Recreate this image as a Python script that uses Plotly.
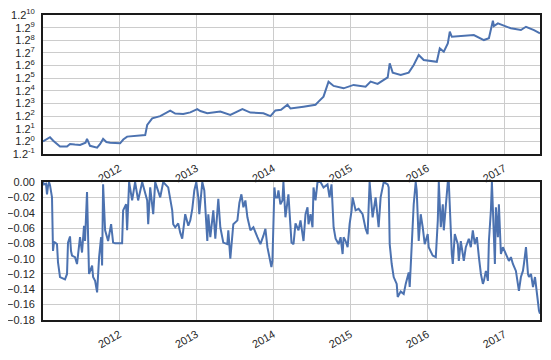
import plotly.graph_objects as go

# ---- data (x in decimal years) ----
eq_t = [2011.007, 2011.04, 2011.098, 2011.14, 2011.228, 2011.319, 2011.358, 2011.42, 2011.488, 2011.56,
        2011.579, 2011.618, 2011.710, 2011.75, 2011.788, 2011.83, 2011.879, 2012.009, 2012.05, 2012.100,
        2012.178, 2012.270, 2012.335, 2012.361, 2012.426, 2012.530, 2012.660, 2012.725, 2012.829, 2012.921,
        2013.012, 2013.051, 2013.142, 2013.311, 2013.441, 2013.598, 2013.702, 2013.871, 2013.962, 2014.027,
        2014.10, 2014.184, 2014.223, 2014.392, 2014.548, 2014.587, 2014.652, 2014.717, 2014.783, 2014.913,
        2015.043, 2015.199, 2015.264, 2015.355, 2015.486, 2015.512, 2015.551, 2015.655, 2015.759, 2015.824,
        2015.889, 2015.954, 2016.046, 2016.124, 2016.163, 2016.215, 2016.267, 2016.293, 2016.319, 2016.475,
        2016.605, 2016.736, 2016.801, 2016.853, 2016.866, 2016.918, 2017.087, 2017.217, 2017.283, 2017.387,
        2017.465]
# equity expressed as exponent of 1.2 (value = 1.2**exp)
eq_exp = [0.0, 0.1, 0.33, 0.05, -0.4, -0.4, -0.2, -0.25, -0.28, -0.1,
          0.2, -0.35, -0.5, -0.2, 0.2, -0.05, -0.1, -0.15, 0.15, 0.38,
          0.43, 0.5, 0.5, 1.3, 1.83, 2.0, 2.43, 2.2, 2.17, 2.3,
          2.55, 2.4, 2.23, 2.36, 2.1, 2.55, 2.28, 2.23, 2.0, 2.45,
          2.5, 2.9, 2.6, 2.75, 2.9, 3.15, 3.54, 4.73, 4.39, 4.2,
          4.47, 4.33, 4.73, 4.55, 5.07, 6.18, 5.44, 5.26, 5.44, 6.05,
          6.84, 6.44, 6.39, 6.3, 7.36, 7.1, 7.76, 8.68, 8.28, 8.34,
          8.42, 8.02, 8.16, 9.55, 9.13, 9.34, 8.95, 8.81, 9.07, 8.81,
          8.55]

dd_t = [2011.007, 2011.020, 2011.046, 2011.059, 2011.072, 2011.085, 2011.098, 2011.124, 2011.137, 2011.150,
        2011.163, 2011.189, 2011.202, 2011.228, 2011.293, 2011.319, 2011.332, 2011.358, 2011.371, 2011.384,
        2011.423, 2011.449, 2011.488, 2011.514, 2011.540, 2011.553, 2011.579, 2011.592, 2011.605, 2011.645,
        2011.658, 2011.684, 2011.710, 2011.736, 2011.762, 2011.775, 2011.788, 2011.814, 2011.853, 2011.892,
        2011.918, 2011.944, 2012.035, 2012.048, 2012.087, 2012.100, 2012.126, 2012.165, 2012.204, 2012.243,
        2012.296, 2012.361, 2012.374, 2012.400, 2012.439, 2012.465, 2012.530, 2012.569, 2012.634, 2012.686,
        2012.699, 2012.725, 2012.764, 2012.790, 2012.816, 2012.855, 2012.895, 2012.921, 2012.947, 2012.973,
        2012.999, 2013.025, 2013.038, 2013.077, 2013.103, 2013.142, 2013.155, 2013.181, 2013.220, 2013.246,
        2013.272, 2013.285, 2013.311, 2013.350, 2013.402, 2013.415, 2013.441, 2013.467, 2013.480, 2013.533,
        2013.559, 2013.585, 2013.611, 2013.637, 2013.663, 2013.702, 2013.741, 2013.793, 2013.832, 2013.871,
        2013.897, 2013.923, 2013.949, 2013.975, 2013.988, 2014.014, 2014.027, 2014.053, 2014.066, 2014.092,
        2014.118, 2014.131, 2014.157, 2014.196, 2014.236, 2014.262, 2014.288, 2014.327, 2014.353, 2014.379,
        2014.392, 2014.418, 2014.444, 2014.457, 2014.483, 2014.509, 2014.522, 2014.548, 2014.574, 2014.613,
        2014.652, 2014.704, 2014.730, 2014.756, 2014.783, 2014.809, 2014.848, 2014.874, 2014.900, 2014.913,
        2014.939, 2014.965, 2014.991, 2015.017, 2015.030, 2015.069, 2015.108, 2015.160, 2015.199, 2015.225,
        2015.251, 2015.290, 2015.329, 2015.368, 2015.394, 2015.434, 2015.486, 2015.499, 2015.512, 2015.538,
        2015.564, 2015.603, 2015.616, 2015.655, 2015.694, 2015.720, 2015.746, 2015.759, 2015.772, 2015.811,
        2015.824, 2015.850, 2015.863, 2015.889, 2015.915, 2015.941, 2015.967, 2016.006, 2016.019, 2016.071,
        2016.111, 2016.137, 2016.150, 2016.176, 2016.202, 2016.215, 2016.254, 2016.267, 2016.280, 2016.293,
        2016.319, 2016.332, 2016.358, 2016.397, 2016.410, 2016.436, 2016.462, 2016.475, 2016.501, 2016.540,
        2016.566, 2016.592, 2016.618, 2016.645, 2016.671, 2016.697, 2016.723, 2016.736, 2016.762, 2016.788,
        2016.801, 2016.827, 2016.840, 2016.866, 2016.879, 2016.892, 2016.918, 2016.931, 2016.957, 2016.983,
        2017.022, 2017.061, 2017.087, 2017.113, 2017.152, 2017.191, 2017.217, 2017.243, 2017.256, 2017.283,
        2017.309, 2017.322, 2017.348, 2017.374, 2017.400, 2017.426, 2017.452, 2017.465]
dd_v = [0, -0.003, -0.002, -0.016, -0.005, 0, -0.004, -0.02, -0.09, -0.078,
        -0.079, -0.081, -0.105, -0.124, -0.127, -0.12, -0.079, -0.071, -0.09, -0.096,
        -0.098, -0.107, -0.072, -0.092, -0.057, -0.077, -0.013, -0.094, -0.12, -0.109,
        -0.124, -0.129, -0.144, -0.098, -0.072, -0.109, -0.003, -0.063, -0.077, -0.055,
        -0.079, -0.080, -0.080, -0.037, -0.029, -0.063, 0, -0.024, 0, -0.024,
        0, -0.024, -0.055, -0.007, -0.042, 0, -0.02, 0, -0.007, -0.037,
        -0.055, -0.059, -0.054, -0.066, -0.074, -0.042, -0.057, -0.05, -0.035, -0.011,
        0, -0.02, -0.042, 0, -0.011, -0.077, -0.042, -0.072, -0.037, -0.074,
        -0.029, -0.022, -0.059, -0.079, -0.081, -0.063, -0.1, -0.072, -0.055, -0.05,
        -0.027, -0.016, -0.033, -0.024, -0.046, -0.063, -0.059, -0.072, -0.081, -0.070,
        -0.061, -0.085, -0.1, -0.111, -0.103, -0.007, -0.02, -0.02, -0.011, -0.029,
        -0.024, 0, -0.046, -0.016, -0.079, -0.081, -0.054, -0.063, -0.050, -0.07,
        -0.077, -0.042, -0.033, -0.055, -0.042, -0.059, -0.007, -0.024, 0, 0,
        -0.007, -0.003, -0.02, -0.003, -0.059, -0.074, -0.081, -0.072, -0.094, -0.072,
        -0.077, -0.085, -0.055, -0.037, -0.02, -0.037, -0.035, -0.042, -0.061, -0.068,
        0, -0.046, -0.02, -0.059, -0.02, 0, -0.003, -0.007, -0.081, -0.107,
        -0.124, -0.133, -0.15, -0.143, -0.146, -0.133, -0.124, -0.118, -0.137, -0.042,
        -0.029, 0, -0.011, -0.077, -0.042, -0.059, -0.081, -0.068, -0.085, -0.096,
        -0.098, -0.05, 0, -0.059, -0.029, -0.063, -0.02, 0, 0, -0.037,
        -0.094, -0.107, -0.068, -0.081, -0.103, -0.077, -0.094, -0.103, -0.085, -0.074,
        -0.085, -0.063, -0.081, -0.072, -0.098, -0.12, -0.133, -0.129, -0.116, -0.129,
        -0.077, -0.037, 0, -0.081, -0.107, -0.033, -0.072, -0.029, -0.094, -0.085,
        -0.094, -0.103, -0.098, -0.107, -0.116, -0.142, -0.124, -0.116, -0.107, -0.085,
        -0.120, -0.124, -0.120, -0.137, -0.124, -0.15, -0.168, -0.172]

year_ticks = [2012, 2013, 2014, 2015, 2016, 2017]
year_labels = ["2012", "2013", "2014", "2015", "2016", "2017"]
exp_ticks = list(range(-1, 11))
exp_labels = ["1.2<sup>%d</sup>" % n for n in exp_ticks]
dd_ticks = [0.0, -0.02, -0.04, -0.06, -0.08, -0.10, -0.12, -0.14, -0.16, -0.18]

LINE = "#4c72b0"
GRID = "#cccccc"
FRAME = "#1a1a1a"
TXT = "#262626"
FONT = "Liberation Sans, Arial, sans-serif"

fig = go.Figure()
fig.add_trace(go.Scatter(x=eq_t, y=eq_exp, mode="lines", line=dict(color=LINE, width=2),
                         xaxis="x", yaxis="y", showlegend=False))
fig.add_trace(go.Scatter(x=dd_t, y=dd_v, mode="lines", line=dict(color=LINE, width=2),
                         xaxis="x2", yaxis="y2", showlegend=False))

xr = [eq_t[0], eq_t[-1]]
common_x = dict(range=xr, tickmode="array", tickvals=year_ticks, ticktext=year_labels,
                tickangle=-30, showgrid=True, gridcolor=GRID, gridwidth=1,
                showline=True, linecolor=FRAME, linewidth=1.8, mirror=True, automargin=False,
                ticklabeloverflow="allow", ticklabelstandoff=2,
                ticks="", zeroline=False, tickfont=dict(size=11, color=TXT, family=FONT))
common_y = dict(showgrid=True, gridcolor=GRID, gridwidth=1, showline=True, linecolor=FRAME,
                linewidth=1.8, mirror=True, ticks="", zeroline=False, automargin=False,
                ticklabeloverflow="allow", ticklabelstandoff=4,
                tickfont=dict(size=11, color=TXT, family=FONT))

# page body adds an 8px offset; figure is sized so plot frames land where the reference has them
fig.update_layout(
    width=543, height=352,
    margin=dict(l=35, r=11, t=7, b=40),
    paper_bgcolor="white", plot_bgcolor="white",
    font=dict(family=FONT, size=11, color=TXT),
    xaxis=dict(domain=[0, 1], anchor="y", **common_x),
    yaxis=dict(domain=[0.544, 1], anchor="x", range=[-1.002, 10.002], tickmode="array",
               tickvals=exp_ticks, ticktext=exp_labels, **common_y),
    xaxis2=dict(domain=[0, 1], anchor="y2", **common_x),
    yaxis2=dict(domain=[0, 0.4525], anchor="x2", range=[-0.1801, 0.0001], tickmode="array",
                tickvals=dd_ticks, tickformat=".2f", **common_y),
)

fig.write_html("out.html")
